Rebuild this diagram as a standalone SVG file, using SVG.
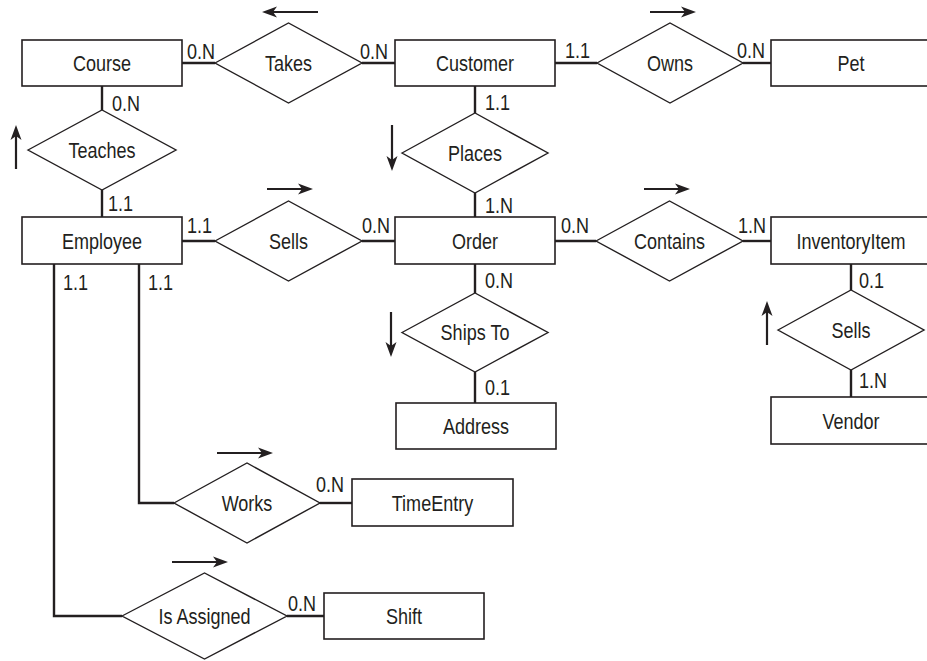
<svg xmlns="http://www.w3.org/2000/svg" width="927" height="661" viewBox="0 0 927 661">
<style>
  .ent { fill: #ffffff; stroke: #231f20; stroke-width: 1.6; }
  .rel { fill: #ffffff; stroke: #231f20; stroke-width: 1.4; }
  .t { font-family: "Liberation Sans", Arial, sans-serif; font-size: 22px; fill: #231f20; text-anchor: middle; }
  .lb { font-family: "Liberation Sans", Arial, sans-serif; font-size: 22px; fill: #231f20; }
  .c { fill: none; stroke: #231f20; stroke-width: 2.4; }
  .ar { fill: none; stroke: #231f20; stroke-width: 2.2; marker-end: url(#ah); }
</style>
<defs>
  <marker id="ah" viewBox="0 -6 15 12" markerWidth="15" markerHeight="12" refX="5" refY="0" orient="auto" markerUnits="userSpaceOnUse">
    <path d="M0,-5.5 L15,0 L0,5.5 L4,0 z" fill="#231f20"/>
  </marker>
</defs>
<rect width="927" height="661" fill="#ffffff"/>

<g id="connectors">
  <path class="c" d="M182,63 H215"/>
  <path class="c" d="M362,63 H395"/>
  <path class="c" d="M555,63 H597"/>
  <path class="c" d="M743,63 H771"/>
  <path class="c" d="M102,86 V110"/>
  <path class="c" d="M102,190 V217"/>
  <path class="c" d="M475,86 V113"/>
  <path class="c" d="M475,193 V217"/>
  <path class="c" d="M182,241 H215"/>
  <path class="c" d="M362,241 H395"/>
  <path class="c" d="M555,241 H596"/>
  <path class="c" d="M743,241 H771"/>
  <path class="c" d="M475,264 V293"/>
  <path class="c" d="M475,372 V403"/>
  <path class="c" d="M851,264 V290"/>
  <path class="c" d="M851,370 V397"/>
  <path class="c" d="M139,264 V503 H174"/>
  <path class="c" d="M54,264 V616 H122"/>
  <path class="c" d="M320,503 H352"/>
  <path class="c" d="M287,616 H324"/>
  <!-- direction arrows -->
  <path class="ar" d="M318,12 H272"/>
  <path class="ar" d="M650,12 H686"/>
  <path class="ar" d="M16,169 V135"/>
  <path class="ar" d="M392,125 V161"/>
  <path class="ar" d="M267,189 H303"/>
  <path class="ar" d="M644,189 H680"/>
  <path class="ar" d="M391,312 V347"/>
  <path class="ar" d="M767,345 V311"/>
  <path class="ar" d="M217,453 H263"/>
  <path class="ar" d="M172,562 H218"/>
  <!-- cardinality labels -->
  <text class="lb" transform="translate(187,59) scale(0.82,1)">0.N</text>
  <text class="lb" transform="translate(360,59) scale(0.82,1)">0.N</text>
  <text class="lb" transform="translate(565,58) scale(0.82,1)">1.1</text>
  <text class="lb" transform="translate(737,58) scale(0.82,1)">0.N</text>
  <text class="lb" transform="translate(112,111) scale(0.82,1)">0.N</text>
  <text class="lb" transform="translate(108,211) scale(0.82,1)">1.1</text>
  <text class="lb" transform="translate(485,110) scale(0.82,1)">1.1</text>
  <text class="lb" transform="translate(485,213) scale(0.82,1)">1.N</text>
  <text class="lb" transform="translate(187,233) scale(0.82,1)">1.1</text>
  <text class="lb" transform="translate(362,233) scale(0.82,1)">0.N</text>
  <text class="lb" transform="translate(561,233) scale(0.82,1)">0.N</text>
  <text class="lb" transform="translate(738,233) scale(0.82,1)">1.N</text>
  <text class="lb" transform="translate(63,290) scale(0.82,1)">1.1</text>
  <text class="lb" transform="translate(148,290) scale(0.82,1)">1.1</text>
  <text class="lb" transform="translate(485,288) scale(0.82,1)">0.N</text>
  <text class="lb" transform="translate(485,395) scale(0.82,1)">0.1</text>
  <text class="lb" transform="translate(859,288) scale(0.82,1)">0.1</text>
  <text class="lb" transform="translate(859,388) scale(0.82,1)">1.N</text>
  <text class="lb" transform="translate(316,492) scale(0.82,1)">0.N</text>
  <text class="lb" transform="translate(288,611) scale(0.82,1)">0.N</text>
</g>

<g id="course"><rect class="ent" x="22" y="40" width="160" height="46"/><text class="t" transform="translate(102,71) scale(0.82,1)">Course</text></g>
<g id="takes"><polygon class="rel" points="215,63 288.5,23 362,63 288.5,103"/><text class="t" transform="translate(288.5,71) scale(0.82,1)">Takes</text></g>
<g id="customer"><rect class="ent" x="395" y="40" width="160" height="46"/><text class="t" transform="translate(475,71) scale(0.82,1)">Customer</text></g>
<g id="owns"><polygon class="rel" points="597,63 670,23 743,63 670,103"/><text class="t" transform="translate(670,71) scale(0.82,1)">Owns</text></g>
<g id="pet"><rect class="ent" x="771" y="40" width="160" height="46"/><text class="t" transform="translate(851,71) scale(0.82,1)">Pet</text></g>

<g id="teaches"><polygon class="rel" points="28,150 102,110 176,150 102,190"/><text class="t" transform="translate(102,158) scale(0.82,1)">Teaches</text></g>
<g id="places"><polygon class="rel" points="402,153 475,113 548,153 475,193"/><text class="t" transform="translate(475,161) scale(0.82,1)">Places</text></g>

<g id="employee"><rect class="ent" x="22" y="217" width="160" height="47"/><text class="t" transform="translate(102,249) scale(0.82,1)">Employee</text></g>
<g id="sells"><polygon class="rel" points="215,241 288.5,201 362,241 288.5,281"/><text class="t" transform="translate(288.5,249) scale(0.82,1)">Sells</text></g>
<g id="order"><rect class="ent" x="395" y="217" width="160" height="47"/><text class="t" transform="translate(475,249) scale(0.82,1)">Order</text></g>
<g id="contains"><polygon class="rel" points="596,241 669.5,201 743,241 669.5,281"/><text class="t" transform="translate(669.5,249) scale(0.82,1)">Contains</text></g>
<g id="inventoryitem"><rect class="ent" x="771" y="217" width="160" height="47"/><text class="t" transform="translate(851,249) scale(0.82,1)">InventoryItem</text></g>

<g id="shipsto"><polygon class="rel" points="402,332.5 475,293 548,332.5 475,372"/><text class="t" transform="translate(475,340) scale(0.82,1)">Ships To</text></g>
<g id="address"><rect class="ent" x="396" y="403" width="160" height="46"/><text class="t" transform="translate(476,434) scale(0.82,1)">Address</text></g>
<g id="vendorsells"><polygon class="rel" points="778,330 851,290 924,330 851,370"/><text class="t" transform="translate(851,338) scale(0.82,1)">Sells</text></g>
<g id="vendor"><rect class="ent" x="771" y="397" width="160" height="47"/><text class="t" transform="translate(851,429) scale(0.82,1)">Vendor</text></g>

<g id="works"><polygon class="rel" points="174,503 247,463 320,503 247,543"/><text class="t" transform="translate(247,511) scale(0.82,1)">Works</text></g>
<g id="timeentry"><rect class="ent" x="352" y="479" width="161" height="47"/><text class="t" transform="translate(432.5,511) scale(0.82,1)">TimeEntry</text></g>
<g id="isassigned"><polygon class="rel" points="122,616 204.5,573 287,616 204.5,659"/><text class="t" transform="translate(204.5,624) scale(0.82,1)">Is Assigned</text></g>
<g id="shift"><rect class="ent" x="324" y="593" width="160" height="46"/><text class="t" transform="translate(404,624) scale(0.82,1)">Shift</text></g>
</svg>
